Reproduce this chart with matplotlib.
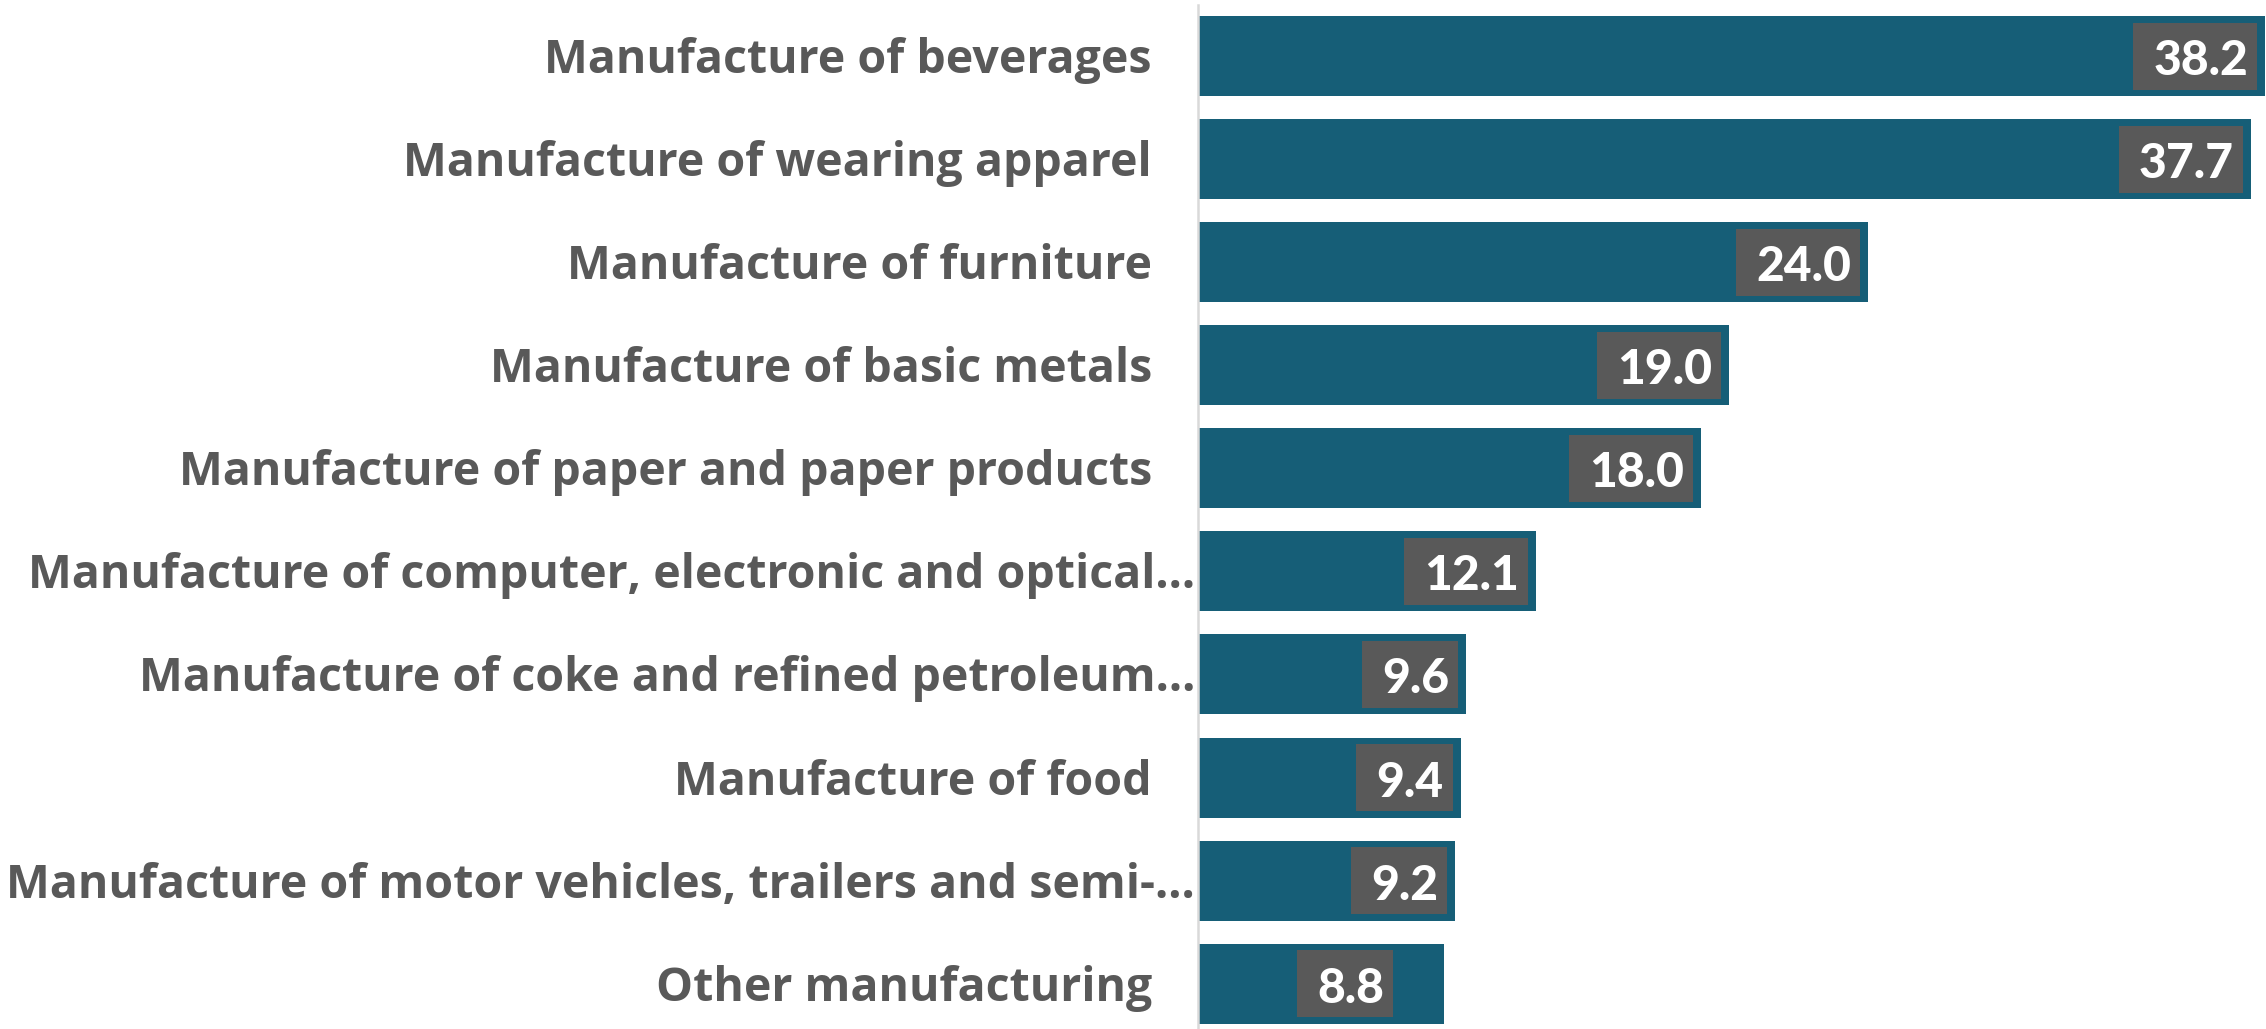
import matplotlib
matplotlib.use("Agg")
import matplotlib.pyplot as plt
from matplotlib.patches import Rectangle

# Industry categories and their values (top to bottom)
categories = [
    "Manufacture of beverages",
    "Manufacture of wearing apparel",
    "Manufacture of furniture",
    "Manufacture of basic metals",
    "Manufacture of paper and paper products",
    "Manufacture of computer, electronic and optical\u2026",
    "Manufacture of coke and refined petroleum\u2026",
    "Manufacture of food",
    "Manufacture of motor vehicles, trailers and semi-\u2026",
    "Other manufacturing",
]
values = [38.2, 37.7, 24.0, 19.0, 18.0, 12.1, 9.6, 9.4, 9.2, 8.8]
truncated = [False, False, False, False, False, True, True, False, True, False]

BAR_COLOR = "#165e77"
GREY = "#595959"
CAT_FONT = ["Open Sans", "DejaVu Sans"]
VAL_FONT = ["Lato", "DejaVu Sans"]

DPI = 72
W, H = 2266, 1029
fig = plt.figure(figsize=(W / DPI, H / DPI), dpi=DPI)
ax_left = 1198 / W
ax = fig.add_axes([ax_left, 0, 1 - ax_left, 1 - 4.5 / H])

ypos = list(range(len(values)))
ax.barh(ypos, values, height=0.776, color=BAR_COLOR, edgecolor="none", zorder=1)
ax.set_xlim(0, 38.24)
ax.set_ylim(9.44, -0.5)

for side in ["top", "right", "bottom"]:
    ax.spines[side].set_visible(False)
ax.spines["left"].set_color("#d9d9d9")
ax.spines["left"].set_linewidth(2.5)
ax.spines["left"].set_zorder(3)
ax.set_xticks([])
ax.set_yticks([])

# Category labels, right-aligned against the axis line
for i, (lab, tr) in enumerate(zip(categories, truncated)):
    ax.annotate(lab, xy=(0, i), xycoords=("axes fraction", "data"),
                xytext=(-3 if tr else -46, -17), textcoords="offset points",
                ha="right", va="baseline", fontsize=46.5, fontweight="bold",
                color=GREY, family=CAT_FONT, annotation_clip=False)

# Value labels on grey boxes near the end of each bar
label_shift = [0, 0, 0, 0, 0, 0, 0, 0, 0, -43]
value_texts = []
for i, v in enumerate(values):
    t = ax.annotate(f"{v:.1f}", xy=(v, i), xycoords="data",
                    xytext=(-17 + label_shift[i], -19), textcoords="offset points",
                    ha="right", va="baseline", fontsize=48, fontweight="black",
                    color="white", family=VAL_FONT, zorder=6, annotation_clip=False)
    value_texts.append(t)

fig.canvas.draw()
renderer = fig.canvas.get_renderer()
inv = fig.transFigure.inverted()
for i, t in enumerate(value_texts):
    bb = t.get_window_extent(renderer)
    yc = ax.transData.transform((0, i))[1]
    x0, y0 = inv.transform((bb.x0 - 20, yc - 33.5))
    x1, y1 = inv.transform((bb.x1 + 9, yc + 33.5))
    ax.add_patch(Rectangle((x0, y0), x1 - x0, y1 - y0,
                           transform=fig.transFigure, facecolor=GREY,
                           edgecolor="none", zorder=5, clip_on=False))

fig.savefig("out.png", dpi=DPI, facecolor="white")
